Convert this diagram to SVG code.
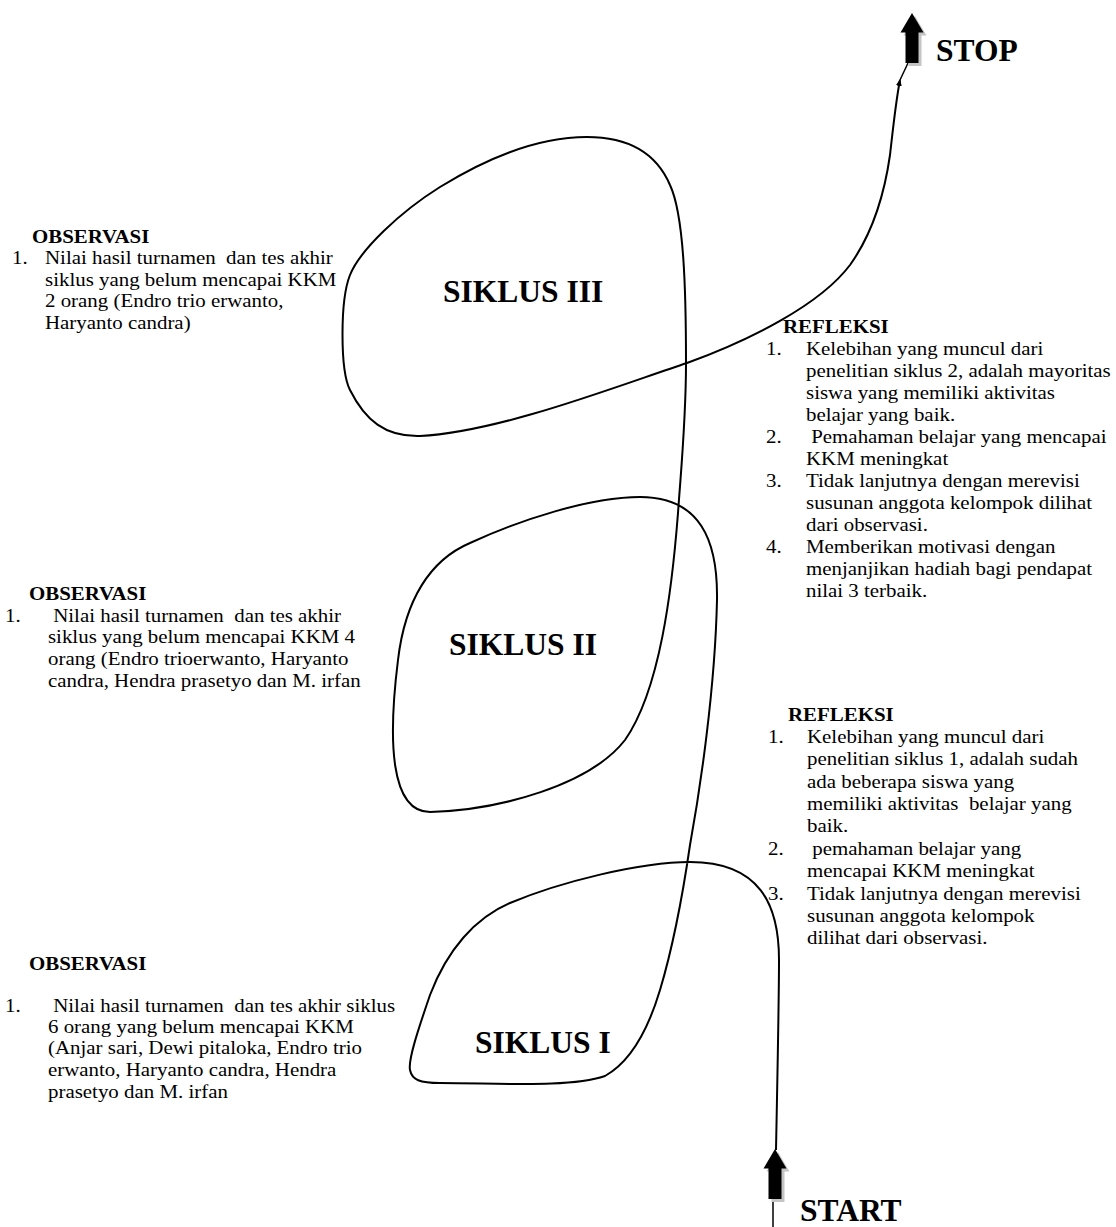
<svg xmlns="http://www.w3.org/2000/svg" width="1116" height="1227" viewBox="0 0 1116 1227">
<style>
  text { font-family: "Liberation Serif", "Times New Roman", serif; fill: #000; white-space: pre; }
  .b { font-size: 19px; }
  .h { font-size: 19px; font-weight: bold; }
  .big { font-size: 31.5px; font-weight: bold; }
  .curve { fill: none; stroke: #000; stroke-width: 2; }
  .thin { fill: none; stroke: #000; stroke-width: 1.5; }
  .shadow { fill: #c4c4c4; }
  .block { fill: #000; }
</style>
<defs>
  <path id="blockArrow" d="M0,0 L11.5,19.5 L6.5,19.5 L6.5,50 L-6.5,50 L-6.5,19.5 L-11.5,19.5 Z"/>
  <marker id="smallHead" markerWidth="8" markerHeight="8" refX="6" refY="4" orient="auto" markerUnits="userSpaceOnUse">
    <path d="M0,1 L7,4 L0,7 Z" fill="#000"/>
  </marker>
</defs>

<g id="connectors">
  <path class="curve" marker-end="url(#smallHead)" d="M776,1150
    C777,1100 779,1000 779,960
    C779,905 760,862 690,862
    C640,862 560,882 510,903
    C475,918 447,950 430,995
    C418,1030 408,1060 410,1070
    C412,1080 420,1083 440,1083
    C500,1083 570,1088 605,1076
    C630,1062 648,1030 660,990
    C672,950 682,900 690,845
    C700,790 715,690 717,600
    C718,540 700,497 640,497
    C590,497 520,520 470,543
    C430,560 405,600 398,660
    C388,740 390,812 430,812
    C500,810 590,785 625,740
    C660,690 672,590 678,513
    C681,470 686,420 686,363
    C686,290 684,215 670,185
    C655,150 625,137 587,137
    C550,137 500,150 440,187
    C400,212 360,250 350,275
    C340,300 340,370 350,390
    C365,420 385,437 420,436
    C500,432 620,385 687,363
    C750,340 820,305 850,265
    C875,230 885,190 890,155
    C894,120 896,100 900,80"/>
  <line class="thin" x1="900" y1="80" x2="908" y2="63"/>
  <line class="thin" x1="773" y1="1200" x2="773" y2="1227"/>
  <g id="stop-arrow">
    <use href="#blockArrow" class="shadow" transform="translate(915,16)"/>
    <use href="#blockArrow" class="block" transform="translate(912,13)"/>
  </g>
  <g id="start-arrow">
    <use href="#blockArrow" class="shadow" transform="translate(778,1152)"/>
    <use href="#blockArrow" class="block" transform="translate(775,1149)"/>
  </g>
</g>

<g id="stop-label"><text class="big" x="936" y="61">STOP</text></g>
<g id="start-label"><text class="big" x="800" y="1221">START</text></g>

<g id="siklus-3"><text class="big" x="443" y="302">SIKLUS III</text></g>
<g id="siklus-2"><text class="big" x="449" y="655">SIKLUS II</text></g>
<g id="siklus-1"><text class="big" x="475" y="1053">SIKLUS I</text></g>

<g id="observasi-3" transform="scale(1.1 1)">
  <text class="h" x="29.09" y="243">OBSERVASI</text>
  <text class="b" x="10.91" y="264">1.</text>
  <text class="b" x="40.91" y="264">Nilai hasil turnamen  dan tes akhir</text>
  <text class="b" x="40.91" y="286">siklus yang belum mencapai KKM</text>
  <text class="b" x="40.91" y="307">2 orang (Endro trio erwanto,</text>
  <text class="b" x="40.91" y="329">Haryanto candra)</text>
</g>

<g id="refleksi-2" transform="scale(1.1 1)">
  <text class="h" x="711.82" y="333">REFLEKSI</text>
  <text class="b" x="696.36" y="355">1.</text>
  <text class="b" x="732.73" y="355">Kelebihan yang muncul dari</text>
  <text class="b" x="732.73" y="377">penelitian siklus 2, adalah mayoritas</text>
  <text class="b" x="732.73" y="399">siswa yang memiliki aktivitas</text>
  <text class="b" x="732.73" y="421">belajar yang baik.</text>
  <text class="b" x="696.36" y="443">2.</text>
  <text class="b" x="732.73" y="443"> Pemahaman belajar yang mencapai</text>
  <text class="b" x="732.73" y="465">KKM meningkat</text>
  <text class="b" x="696.36" y="487">3.</text>
  <text class="b" x="732.73" y="487">Tidak lanjutnya dengan merevisi</text>
  <text class="b" x="732.73" y="509">susunan anggota kelompok dilihat</text>
  <text class="b" x="732.73" y="531">dari observasi.</text>
  <text class="b" x="696.36" y="553">4.</text>
  <text class="b" x="732.73" y="553">Memberikan motivasi dengan</text>
  <text class="b" x="732.73" y="575">menjanjikan hadiah bagi pendapat</text>
  <text class="b" x="732.73" y="597">nilai 3 terbaik.</text>
</g>

<g id="observasi-2" transform="scale(1.1 1)">
  <text class="h" x="26.36" y="600">OBSERVASI</text>
  <text class="b" x="4.55" y="622">1.</text>
  <text class="b" x="43.64" y="622"> Nilai hasil turnamen  dan tes akhir</text>
  <text class="b" x="43.64" y="643">siklus yang belum mencapai KKM 4</text>
  <text class="b" x="43.64" y="665">orang (Endro trioerwanto, Haryanto</text>
  <text class="b" x="43.64" y="687">candra, Hendra prasetyo dan M. irfan</text>
</g>

<g id="refleksi-1" transform="scale(1.1 1)">
  <text class="h" x="716.36" y="721">REFLEKSI</text>
  <text class="b" x="698.18" y="743">1.</text>
  <text class="b" x="733.64" y="743">Kelebihan yang muncul dari</text>
  <text class="b" x="733.64" y="765">penelitian siklus 1, adalah sudah</text>
  <text class="b" x="733.64" y="788">ada beberapa siswa yang</text>
  <text class="b" x="733.64" y="810">memiliki aktivitas  belajar yang</text>
  <text class="b" x="733.64" y="832">baik.</text>
  <text class="b" x="698.18" y="855">2.</text>
  <text class="b" x="733.64" y="855"> pemahaman belajar yang</text>
  <text class="b" x="733.64" y="877">mencapai KKM meningkat</text>
  <text class="b" x="698.18" y="900">3.</text>
  <text class="b" x="733.64" y="900">Tidak lanjutnya dengan merevisi</text>
  <text class="b" x="733.64" y="922">susunan anggota kelompok</text>
  <text class="b" x="733.64" y="944">dilihat dari observasi.</text>
</g>

<g id="observasi-1" transform="scale(1.1 1)">
  <text class="h" x="26.36" y="970">OBSERVASI</text>
  <text class="b" x="4.55" y="1012">1.</text>
  <text class="b" x="43.64" y="1012"> Nilai hasil turnamen  dan tes akhir siklus</text>
  <text class="b" x="43.64" y="1033">6 orang yang belum mencapai KKM</text>
  <text class="b" x="43.64" y="1054">(Anjar sari, Dewi pitaloka, Endro trio</text>
  <text class="b" x="43.64" y="1076">erwanto, Haryanto candra, Hendra</text>
  <text class="b" x="43.64" y="1098">prasetyo dan M. irfan</text>
</g>
</svg>
